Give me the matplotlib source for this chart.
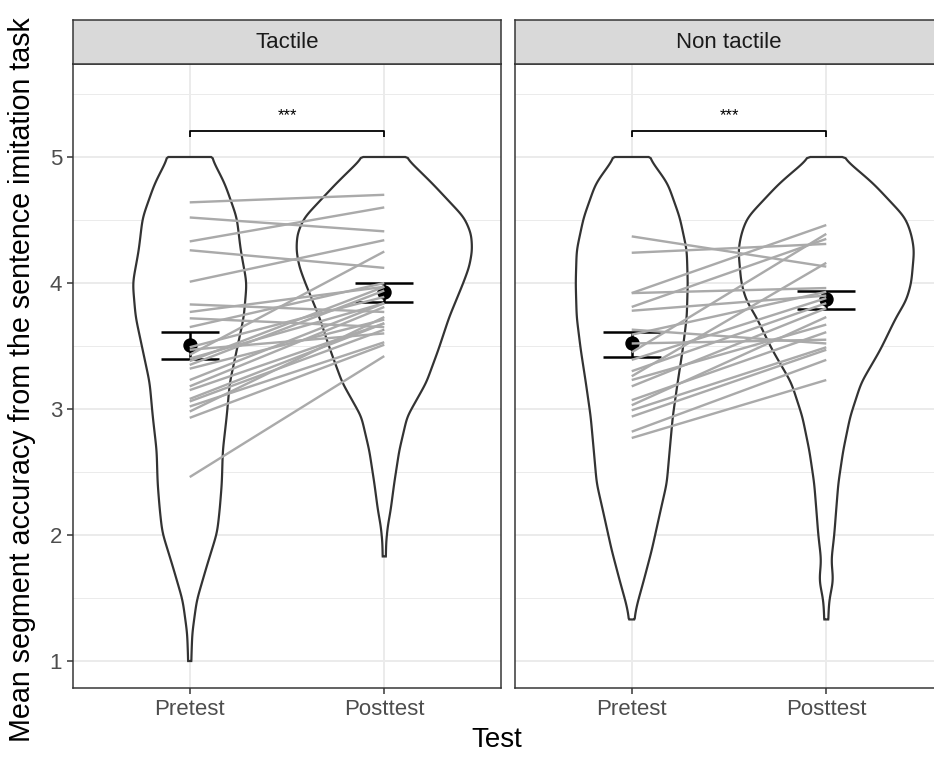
import numpy as np
import matplotlib
matplotlib.use("Agg")
import matplotlib.pyplot as plt

# ---------------- data ----------------
panels = ["Tactile", "Non tactile"]
tests = ["Pretest", "Posttest"]

tactile_pre = [4.64, 4.52, 4.33, 4.26, 4.01, 3.83, 3.77, 3.72, 3.65, 3.49, 3.47, 3.43, 3.40,
               3.38, 3.35, 3.32, 3.23, 3.18, 3.15, 3.08, 3.06, 3.02, 2.98, 2.93, 2.46]
tactile_post = [4.70, 4.41, 4.60, 4.12, 4.34, 3.77, 3.97, 3.65, 4.00, 3.89, 3.60, 4.25, 3.84,
                3.97, 3.94, 3.71, 3.84, 3.81, 3.68, 3.68, 3.63, 3.53, 3.73, 3.51, 3.42]
nontactile_pre = [4.37, 4.24, 3.92, 3.92, 3.81, 3.78, 3.63, 3.59, 3.52, 3.45, 3.39, 3.30, 3.26,
                  3.23, 3.18, 3.07, 3.03, 2.99, 2.94, 2.82, 2.77]
nontactile_post = [4.13, 4.31, 4.46, 3.96, 4.35, 3.90, 3.52, 3.93, 3.55, 4.39, 3.88, 3.84, 4.16,
                   3.67, 3.80, 3.61, 3.73, 3.49, 3.47, 3.39, 3.23]

# group means and error bar limits
means = {"Tactile": [3.51, 3.93], "Non tactile": [3.52, 3.87]}
err_low = {"Tactile": [3.40, 3.85], "Non tactile": [3.41, 3.79]}
err_high = {"Tactile": [3.61, 4.00], "Non tactile": [3.61, 3.94]}

# violin outlines: value levels and half-widths (in category units)
vt_pre_y = [5.0, 4.79, 4.52, 4.26, 4.0, 3.73, 3.47, 3.21, 2.94, 2.67, 2.41, 2.2, 2.02, 1.75, 1.48, 1.22, 1.0]
vt_pre_w = [0.110, 0.180, 0.242, 0.262, 0.293, 0.278, 0.242, 0.206, 0.190, 0.170, 0.165, 0.154, 0.141, 0.087, 0.036, 0.013, 0.008]
vt_post_y = [5.0, 4.79, 4.52, 4.39, 4.26, 4.13, 4.0, 3.73, 3.47, 3.21, 2.94, 2.67, 2.41, 2.2, 2.07, 1.95, 1.83]
vt_post_w = [0.108, 0.247, 0.411, 0.447, 0.452, 0.437, 0.406, 0.334, 0.278, 0.216, 0.118, 0.077, 0.051, 0.033, 0.018, 0.010, 0.008]
vn_pre_y = [5.0, 4.79, 4.52, 4.26, 4.0, 3.73, 3.47, 3.21, 2.94, 2.67, 2.41, 2.2, 1.88, 1.64, 1.44, 1.33]
vn_pre_w = [0.087, 0.185, 0.247, 0.283, 0.288, 0.283, 0.262, 0.236, 0.211, 0.195, 0.180, 0.149, 0.103, 0.062, 0.026, 0.013]
vn_post_y = [5.0, 4.79, 4.52, 4.39, 4.26, 4.0, 3.86, 3.73, 3.47, 3.21, 2.94, 2.67, 2.41, 2.2, 2.0, 1.8, 1.64, 1.48, 1.33]
vn_post_w = [0.082, 0.242, 0.406, 0.437, 0.452, 0.437, 0.411, 0.360, 0.278, 0.180, 0.123, 0.087, 0.062, 0.051, 0.041, 0.026, 0.036, 0.015, 0.010]

violins = {"Tactile": [(vt_pre_y, vt_pre_w), (vt_post_y, vt_post_w)],
           "Non tactile": [(vn_pre_y, vn_pre_w), (vn_post_y, vn_post_w)]}
pairs = {"Tactile": (tactile_pre, tactile_post), "Non tactile": (nontactile_pre, nontactile_post)}
sig_label = "***"
sig_y = 5.21

y_ticks = [1, 2, 3, 4, 5]

# ---------------- drawing ----------------
W, H = 934, 763
fig = plt.figure(figsize=(W / 100, H / 100), dpi=100)

FONT = ["Liberation Sans", "DejaVu Sans"]
plt.rcParams["font.family"] = FONT

dark = "#333333"
grid_c = "#EBEBEB"

def px(v):
    return v * 72 / 100  # px -> pt


def smooth_outline(ys, ws):
    ys = np.asarray(ys)[::-1]
    ws = np.asarray(ws)[::-1]
    fine = np.linspace(ys[0], ys[-1], 400)
    wf = np.interp(fine, ys, ws)
    k = np.exp(-0.5 * (np.arange(-12, 13) / 5.0) ** 2)
    k /= k.sum()
    pad = np.concatenate([np.full(12, wf[0]), wf, np.full(12, wf[-1])])
    ws_s = np.convolve(pad, k, mode="valid")
    ws_s[0] = wf[0]
    ws_s[-1] = wf[-1]
    return fine, ws_s


axes_left = [73, 515]
ax_w = 428
ax_top, ax_bot = 64, 688
strip_top = 20

for pi, name in enumerate(panels):
    l = axes_left[pi]
    ax = fig.add_axes([l / W, 1 - ax_bot / H, ax_w / W, (ax_bot - ax_top) / H])
    ax.set_xlim(0.4, 2.6)
    ax.set_ylim(0.786, 5.738)
    ax.set_facecolor("white")
    # grid
    for yv in np.arange(1.5, 6.0, 1.0):
        ax.axhline(yv, color=grid_c, lw=px(1.0), zorder=0)
    for yv in y_ticks:
        ax.axhline(yv, color=grid_c, lw=px(2.0), zorder=0)
    for xv in [1, 2]:
        ax.axvline(xv, color=grid_c, lw=px(2.0), zorder=0)

    # violins
    for ci, (vy, vw) in enumerate(violins[name]):
        c = ci + 1
        fy, fw = smooth_outline(vy, vw)
        xs = np.concatenate([c - fw, (c + fw)[::-1]])
        yy = np.concatenate([fy, fy[::-1]])
        ax.fill(xs, yy, facecolor="white", edgecolor=dark, lw=px(2.2), zorder=2,
                joinstyle="miter")

    # means and error bars
    for ci in range(2):
        c = ci + 1
        ax.errorbar([c], [means[name][ci]],
                    yerr=[[means[name][ci] - err_low[name][ci]], [err_high[name][ci] - means[name][ci]]],
                    fmt="o", color="black", ms=px(13), capsize=px(29), elinewidth=px(2.5),
                    capthick=px(2.5), zorder=3)

    # paired lines
    pre, post = pairs[name]
    for a, b in zip(pre, post):
        ax.plot([1, 2], [a, b], color="#AAAAAA", lw=px(2.4), zorder=4, solid_capstyle="butt")

    # significance bracket
    ax.plot([1, 1, 2, 2], [sig_y - 0.05, sig_y, sig_y, sig_y - 0.05], color="black",
            lw=px(1.8), zorder=5, solid_capstyle="butt")
    ax.text(1.5, sig_y + 0.06, sig_label, ha="center", va="bottom", fontsize=12, color="black")

    # axes styling
    for s in ax.spines.values():
        s.set_color(dark)
        s.set_linewidth(px(1.5))
    ax.set_xticks([1, 2])
    ax.set_xticklabels(tests, fontsize=16, color="#4D4D4D")
    ax.tick_params(axis="x", length=px(6), width=px(1.5), color=dark, pad=px(5))
    if pi == 0:
        ax.set_yticks(y_ticks)
        ax.set_yticklabels([str(v) for v in y_ticks], fontsize=16, color="#4D4D4D")
        ax.tick_params(axis="y", length=px(6), width=px(1.5), color=dark, pad=px(5))
    else:
        ax.set_yticks([])

    # strip
    sax = fig.add_axes([l / W, 1 - ax_top / H, ax_w / W, (ax_top - strip_top) / H])
    sax.set_facecolor("#D9D9D9")
    sax.set_xticks([])
    sax.set_yticks([])
    for s in sax.spines.values():
        s.set_color(dark)
        s.set_linewidth(px(1.5))
    sax.text(0.5, 0.5, name, ha="center", va="center", fontsize=16, color="#1A1A1A",
             transform=sax.transAxes)

fig.text(497 / W, 1 - 740 / H, "Test", ha="center", va="center", fontsize=20, color="black")
fig.text(22 / W, 1 - 380 / H, "Mean segment accuracy from the sentence imitation task",
         ha="center", va="center", rotation=90, fontsize=20.6, color="black")

fig.savefig("out.png", dpi=100)
